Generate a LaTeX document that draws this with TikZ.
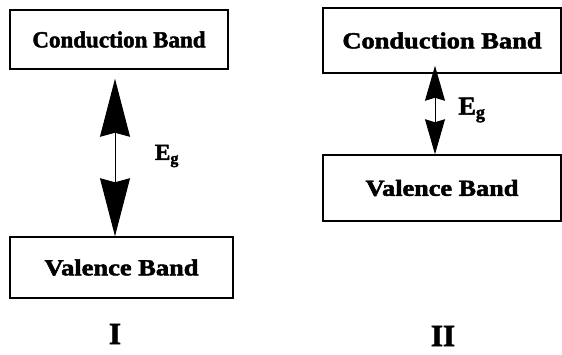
\documentclass[tikz,border=0pt]{standalone}
\usepackage{fontspec}
\setmainfont{Liberation Serif}[BoldFeatures={FakeBold=2}]
\usetikzlibrary{arrows.meta}
\tikzset{
  band/.style={draw=black, line width=1.5pt, inner sep=0pt, font=\bfseries\fontsize{23}{25}\selectfont},
  bigarrow/.style={line width=1pt, {Stealth[length=58pt,width=30pt,inset=4pt]}-{Stealth[length=58pt,width=30pt,inset=4pt]}},
  smallarrow/.style={line width=1pt, {Stealth[length=35pt,width=20pt,inset=3pt]}-{Stealth[length=35pt,width=20pt,inset=3pt]}},
  lbl/.style={inner sep=0pt, font=\bfseries},
}
\begin{document}
\begin{tikzpicture}[x=1pt,y=-1pt]
\useasboundingbox (0,0) rectangle (562,354);
% Panel I
\node[band, minimum width=218pt, minimum height=59pt] (cb1) at (119,39.5) {\scalebox{1.0}[1]{Conduction Band}};
\node[band, minimum width=223pt, minimum height=61pt] (vb1) at (121.5,267.5) {\scalebox{1.15}[1]{Valence Band}};
\draw[bigarrow] ([xshift=-4pt,yshift=-9pt]cb1.south) -- ([xshift=-6.5pt]vb1.north);
\node[lbl, font=\bfseries\fontsize{23}{25}\selectfont] (eg1) at (167,156) {E\textsubscript{g}};
\node[lbl, font=\bfseries\fontsize{31}{33}\selectfont] (n1) at (115,334) {I};
% Panel II
\node[band, minimum width=238pt, minimum height=65pt] (cb2) at (442,40.5) {\scalebox{1.15}[1]{Conduction Band}};
\node[band, minimum width=238pt, minimum height=66pt] (vb2) at (442,188) {\scalebox{1.14}[1]{Valence Band}};
\draw[smallarrow] ([xshift=-7pt,yshift=8pt]cb2.south) -- ([xshift=-7pt]vb2.north);
\node[lbl, font=\bfseries\fontsize{26}{28}\selectfont] (eg2) at (472,110) {E\textsubscript{g}};
\node[lbl, font=\bfseries\fontsize{31}{33}\selectfont] (n2) at (443,336) {II};
\end{tikzpicture}
\end{document}
